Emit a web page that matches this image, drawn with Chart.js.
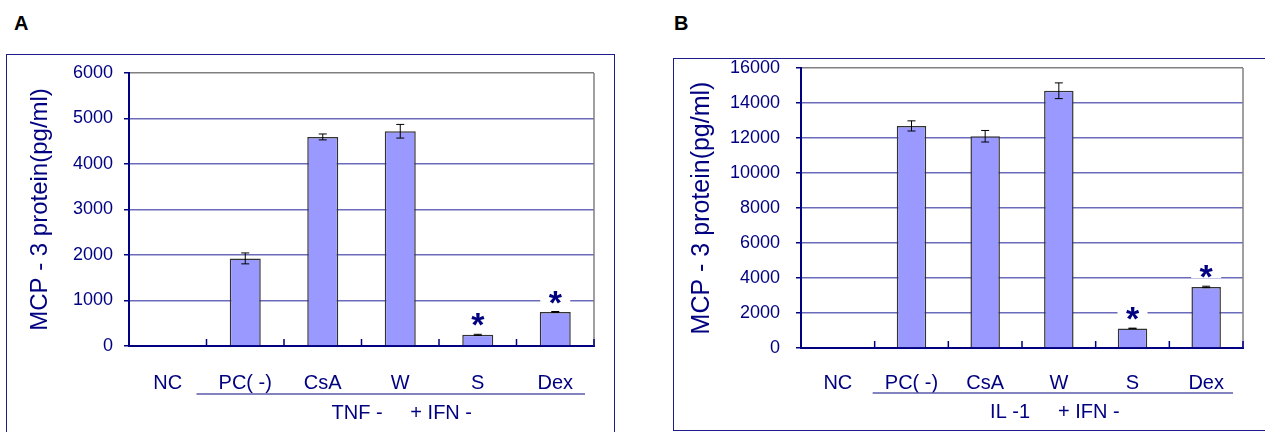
<!DOCTYPE html>
<html>
<head>
<meta charset="utf-8">
<script src="https://cdn.jsdelivr.net/npm/chart.js@4.4.0/dist/chart.umd.min.js"></script>
<style>
  body { margin: 0; width: 1265px; height: 432px; overflow: hidden; background: #fff; font-family: 'Liberation Sans', Arial, sans-serif; }
  .letter { position: absolute; font-weight: bold; font-size: 20px; color: #000; }
  .box { position: absolute; border: 1.5px solid #1c1c8c; }
  canvas { position: absolute; }
</style>
</head>
<body>
<div class="letter" style="left:14px;top:12px">A</div>
<div class="letter" style="left:674px;top:12px">B</div>
<div class="box" style="left:6px;top:54px;width:607px;height:390px"></div>
<div class="box" style="left:673px;top:58px;width:620px;height:371px"></div>
<canvas id="chartA" width="606" height="376" style="left:8px;top:56px"></canvas>
<canvas id="chartB" width="590" height="370" style="left:675px;top:60px"></canvas>
<script>
const categories = ['NC', 'PC( -)', 'CsA', 'W', 'S', 'Dex'];

// panel A: TNF + IFN stimulation
const tnfValues = [15, 1925, 4595, 4720, 245, 748];
const tnfErrors = [0, 120, 65, 150, 12, 10];
const tnfStars = [false, false, false, false, true, true];
const tnfTicks = [0, 1000, 2000, 3000, 4000, 5000, 6000];

// panel B: IL-1 + IFN stimulation
const il1Values = [40, 12690, 12100, 14700, 1120, 3490];
const il1Errors = [0, 290, 330, 450, 15, 40];
const il1Stars = [false, false, false, false, true, true];
const il1Ticks = [0, 2000, 4000, 6000, 8000, 10000, 12000, 14000, 16000];

const yTitle = 'MCP - 3 protein(pg/ml)';
const navy = '#000080';
const gridBlue = '#6b6bbb';
const labelFont = "'Liberation Sans Narrow', 'Liberation Sans', Arial, sans-serif";

function makeChart(id, values, errors, stars, ticks, groupText, look) {
  const yMax = ticks[ticks.length - 1];

  const decor = {
    id: 'decor',
    afterDatasetsDraw(chart) {
      const ctx = chart.ctx;
      const y = chart.scales.y;
      const meta = chart.getDatasetMeta(0);
      ctx.save();
      // error bars
      ctx.strokeStyle = '#000';
      ctx.lineWidth = 1;
      meta.data.forEach((bar, i) => {
        const e = errors[i];
        if (!e) return;
        const yt = y.getPixelForValue(values[i] + e);
        const yb = y.getPixelForValue(values[i] - e);
        ctx.beginPath();
        ctx.moveTo(bar.x, yt); ctx.lineTo(bar.x, yb);
        ctx.moveTo(bar.x - 4, yt); ctx.lineTo(bar.x + 4, yt);
        ctx.moveTo(bar.x - 4, yb); ctx.lineTo(bar.x + 4, yb);
        ctx.stroke();
      });
      // significance stars
      ctx.font = 'bold 34px "Liberation Sans", Arial, sans-serif';
      ctx.textAlign = 'center';
      ctx.textBaseline = 'alphabetic';
      meta.data.forEach((bar, i) => {
        if (!stars[i]) return;
        const yc = y.getPixelForValue(values[i] + errors[i]) - 17;
        ctx.fillStyle = '#fff';
        ctx.fillRect(bar.x - 15, yc - 10, 30, 19);
        ctx.fillStyle = navy;
        ctx.fillText('*', bar.x, yc + 19);
      });
      ctx.restore();
    },
    afterDraw(chart) {
      const ctx = chart.ctx;
      const area = chart.chartArea;
      const x = chart.scales.x;
      const catW = (area.right - area.left) / categories.length;
      ctx.save();
      // right frame line
      ctx.strokeStyle = '#808080';
      ctx.lineWidth = 1.5;
      ctx.beginPath();
      ctx.moveTo(area.right, area.top);
      ctx.lineTo(area.right, area.bottom);
      ctx.stroke();
      // inside tick marks between categories
      ctx.strokeStyle = navy;
      ctx.lineWidth = 1.5;
      ctx.beginPath();
      for (let i = 1; i <= categories.length; i++) {
        const px = x.getPixelForValue(i - 1) + catW / 2;
        ctx.moveTo(px, area.bottom);
        ctx.lineTo(px, area.bottom - 7);
      }
      ctx.stroke();
      // group underline and label
      const x0 = x.getPixelForValue(1) - catW / 2 - look.lineInL;
      const x1 = area.right - look.lineInR;
      ctx.strokeStyle = '#5a5aaa';
      ctx.lineWidth = 1.5;
      ctx.beginPath();
      ctx.moveTo(x0, look.lineY);
      ctx.lineTo(x1, look.lineY);
      ctx.stroke();
      ctx.fillStyle = navy;
      ctx.font = '20px ' + labelFont;
      ctx.textAlign = 'center';
      ctx.textBaseline = 'middle';
      ctx.fillText(groupText, (x0 + x1) / 2 + look.groupShift, look.groupY);
      ctx.restore();
    }
  };

  return new Chart(document.getElementById(id), {
    type: 'bar',
    data: {
      labels: categories,
      datasets: [{
        data: values,
        backgroundColor: '#9999ff',
        borderColor: '#333333',
        borderWidth: 1.5,
        barPercentage: 0.4,
        categoryPercentage: 1
      }]
    },
    options: {
      responsive: false,
      animation: false,
      layout: { padding: { top: look.padTop, right: look.padRight, left: 0, bottom: 0 } },
      plugins: { legend: { display: false }, tooltip: { enabled: false } },
      scales: {
        x: {
          offset: true,
          grid: { display: false },
          border: { color: navy, width: 2 },
          ticks: { color: navy, font: { family: labelFont, size: 20 }, padding: look.xPad, maxRotation: 0, autoSkip: false },
          afterFit: s => { s.height = look.xHeight; s.paddingLeft = 0; s.paddingRight = 0; }
        },
        y: {
          min: 0,
          max: yMax,
          afterBuildTicks: s => { s.ticks = ticks.map(v => ({ value: v })); },
          grid: {
            color: c => c.tick.value === yMax ? '#808080' : (c.tick.value === 0 ? navy : gridBlue),
            lineWidth: 1.5,
            tickLength: 5,
            tickColor: navy
          },
          border: { color: navy, width: 2 },
          ticks: {
            color: navy,
            font: { size: look.tickSize },
            padding: look.yPad,
            callback: v => String(v)
          },
          title: {
            display: true,
            text: yTitle,
            color: navy,
            font: { size: look.titleSize },
            padding: { top: look.titlePad, bottom: 0 }
          },
          afterFit: s => { s.width = look.yWidth; s.paddingTop = 0; s.paddingBottom = 0; }
        }
      }
    },
    plugins: [decor]
  });
}

makeChart('chartA', tnfValues, tnfErrors, tnfStars, tnfTicks, 'TNF -     + IFN -', {
  padTop: 17, padRight: 20, yWidth: 121, xHeight: 86, xPad: 17, yPad: 11,
  tickSize: 18, titleSize: 24, titlePad: 18,
  lineInL: 10, lineInR: 9, lineY: 338, groupY: 357, groupShift: 11
});

makeChart('chartB', il1Values, il1Errors, il1Stars, il1Ticks, 'IL -1     + IFN -', {
  padTop: 8, padRight: 22, yWidth: 126, xHeight: 82, xPad: 15, yPad: 16,
  tickSize: 18, titleSize: 25, titlePad: 12,
  lineInL: 2, lineInR: 10, lineY: 333, groupY: 352, groupShift: 2
});
</script>
</body>
</html>
